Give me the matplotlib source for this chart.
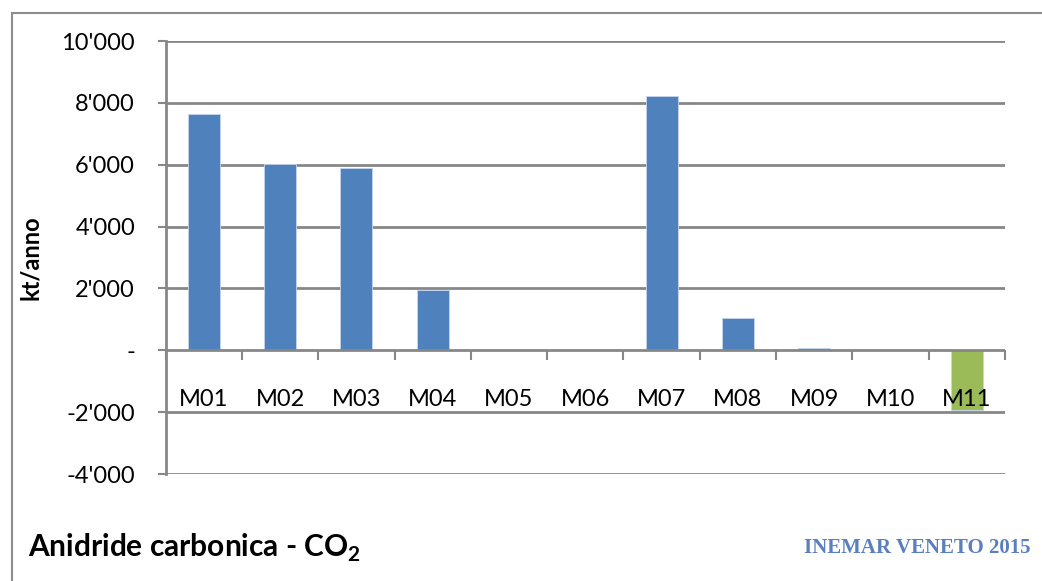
import matplotlib

matplotlib.use('Agg')
import matplotlib.pyplot as plt
from matplotlib.patches import Rectangle
from matplotlib.ticker import FuncFormatter, FixedLocator

# macrosettori e emissioni di CO2 (kt/anno)
settori = ['M01', 'M02', 'M03', 'M04', 'M05', 'M06', 'M07', 'M08', 'M09', 'M10', 'M11']
emissioni = [7630, 6030, 5880, 1960, 0, 0, 8210, 1040, 90, 0, -1930]
y_ticks = [-4000, -2000, 0, 2000, 4000, 6000, 8000, 10000]

BLU = '#4F81BD'
VERDE = '#9BBB59'
GRIGIO = '#878787'

plt.rcParams['font.family'] = ['Lato', 'DejaVu Sans']
plt.rcParams['mathtext.fontset'] = 'custom'
plt.rcParams['mathtext.rm'] = 'Lato'
plt.rcParams['mathtext.bf'] = 'Lato:bold'


def formatta(v, pos):
    # separatore delle migliaia con apostrofo, zero mostrato come trattino
    if v == 0:
        return '-'
    return f'{int(v):,}'.replace(',', "'")


fig = plt.figure(figsize=(10.42, 5.81), dpi=100)

# cornice esterna del grafico
fig.patches.append(Rectangle((12 / 1042, -0.1), 1.2, 1.1 - 13 / 581,
                             transform=fig.transFigure, fill=False,
                             edgecolor='#8c8c8c', linewidth=1.5))

ax = fig.add_axes([0.159, 0.184, 0.8055, 0.7454])

x = list(range(len(settori)))
colori = [VERDE if v < 0 else BLU for v in emissioni]
ax.bar(x, emissioni, width=0.42, color=colori, edgecolor='#c6d6ec',
       linewidth=0.6, zorder=2)

ax.set_xlim(-0.5, len(settori) - 0.5)
ax.set_ylim(-4000, 10000)

ax.yaxis.set_major_locator(FixedLocator(y_ticks))
ax.yaxis.set_major_formatter(FuncFormatter(formatta))
for v in y_ticks:
    if v != 0:
        ax.axhline(v, color=GRIGIO, linewidth=2, zorder=1)
ax.axhline(0, color=GRIGIO, linewidth=2, zorder=3)

# etichette al centro, tacche sui confini delle categorie
ax.set_xticks(x)
ax.set_xticklabels(settori)
ax.set_xticks([i - 0.5 for i in range(len(settori) + 1)], minor=True)
ax.tick_params(axis='x', which='major', length=0, pad=28, labelsize=17)
ax.tick_params(axis='x', which='minor', length=7, width=1.5, color=GRIGIO,
               direction='out')
ax.xaxis.set_ticks_position('bottom')
ax.xaxis.set_zorder(5)
# le tacche partono dalla linea dello zero
ax.spines['bottom'].set_position(('data', 0))
ax.spines['bottom'].set_visible(False)

ax.tick_params(axis='y', length=6, width=1.5, color=GRIGIO, labelsize=17,
               pad=16)
for s in ['top', 'right']:
    ax.spines[s].set_visible(False)
ax.spines['left'].set_color(GRIGIO)
ax.spines['left'].set_linewidth(2)

ax.set_ylabel('kt/anno', fontsize=17, fontweight='bold', labelpad=14)

fig.text(28 / 1042, 1 - 548 / 581, r'Anidride carbonica - CO$_\mathbf{2}$',
         fontsize=21.5, fontweight='bold', va='center', ha='left')
fig.text(1030 / 1042, 1 - 548 / 581, 'INEMAR VENETO 2015', fontsize=15,
         fontweight='bold', family='Liberation Serif', color='#5a7fbf',
         va='center', ha='right')

fig.savefig('out.png', dpi=100)
